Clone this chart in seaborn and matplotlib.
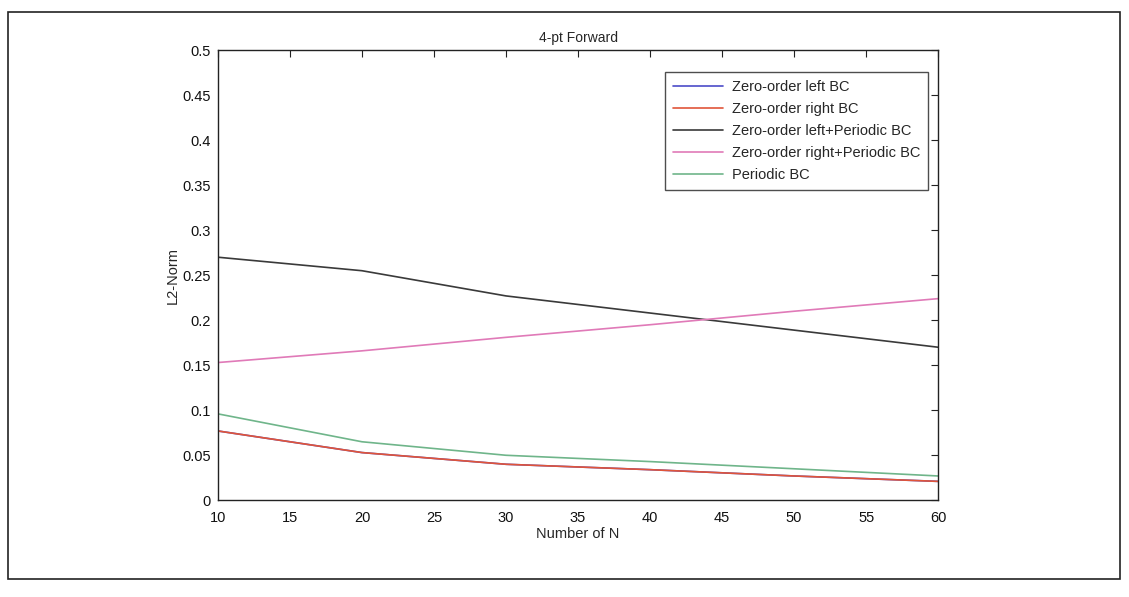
import numpy as np
import pandas as pd
import matplotlib
matplotlib.use("Agg")
import matplotlib.pyplot as plt
import seaborn as sns
from matplotlib.patches import Rectangle

# Grid sizes and L2-norm error for each boundary-condition variant
n_values = [10, 20, 30, 40, 50, 60]
zero_left = [0.077, 0.053, 0.040, 0.034, 0.027, 0.021]
zero_right = [0.077, 0.053, 0.040, 0.034, 0.027, 0.021]
zero_left_periodic = [0.270, 0.255, 0.227, 0.208, 0.189, 0.170]
zero_right_periodic = [0.153, 0.166, 0.181, 0.195, 0.210, 0.224]
periodic = [0.096, 0.065, 0.050, 0.043, 0.035, 0.027]

series_names = [
    "Zero-order left BC",
    "Zero-order right BC",
    "Zero-order left+Periodic BC",
    "Zero-order right+Periodic BC",
    "Periodic BC",
]
series_values = [zero_left, zero_right, zero_left_periodic, zero_right_periodic, periodic]
series_colors = ["#4b4bc8", "#e0553a", "#3a3a3a", "#e07ab8", "#6fb58a"]

x_ticks = [10, 15, 20, 25, 30, 35, 40, 45, 50, 55, 60]
y_ticks = [0, 0.05, 0.1, 0.15, 0.2, 0.25, 0.3, 0.35, 0.4, 0.45, 0.5]

df = pd.concat(
    [pd.DataFrame({"N": n_values, "L2": vals, "series": name})
     for name, vals in zip(series_names, series_values)],
    ignore_index=True,
)

sns.set_theme(style="white")
plt.rcParams["font.family"] = ["Liberation Sans", "DejaVu Sans"]

fig = plt.figure(figsize=(11.29, 5.97), dpi=100)
ax = fig.add_axes([0.193, 0.162, 0.638, 0.754])

sns.lineplot(
    data=df, x="N", y="L2", hue="series", hue_order=series_names,
    palette=series_colors, linewidth=1.2, ax=ax, sort=False,
)

ax.set_xlim(10, 60)
ax.set_ylim(0, 0.5)
ax.set_xticks(x_ticks)
ax.set_xticklabels([str(v) for v in x_ticks])
ax.set_yticks(y_ticks)
ax.set_yticklabels(["0", "0.05", "0.1", "0.15", "0.2", "0.25", "0.3",
                    "0.35", "0.4", "0.45", "0.5"])
ax.tick_params(direction="in", length=5, width=0.8, labelsize=10.5,
               top=True, right=True, colors="#222222", labelcolor="#111111")
ax.tick_params(axis="x", pad=8)
ax.tick_params(axis="y", pad=5)
for side in ax.spines.values():
    side.set_visible(True)
    side.set_color("#222222")
    side.set_linewidth(1.0)

ax.set_xlabel("Number of N", fontsize=10.5, labelpad=1)
ax.set_ylabel("L2-Norm", fontsize=10.5, labelpad=2)
ax.set_title("4-pt Forward", fontsize=10, pad=6)

leg = ax.legend(
    loc="upper right", bbox_to_anchor=(0.986, 0.952), borderaxespad=0,
    fontsize=10.5, frameon=True, fancybox=False, edgecolor="#222222",
    handlelength=3.4, handletextpad=0.6, borderpad=0.55, labelspacing=0.55,
)
leg.get_frame().set_linewidth(1.0)
leg.get_frame().set_facecolor("white")

# printed page border
fig.patches.append(Rectangle((0.007, 0.03), 0.985, 0.95, transform=fig.transFigure,
                             fill=False, edgecolor="#222222", linewidth=1.2))

fig.savefig("out.png", dpi=100, facecolor="white")
